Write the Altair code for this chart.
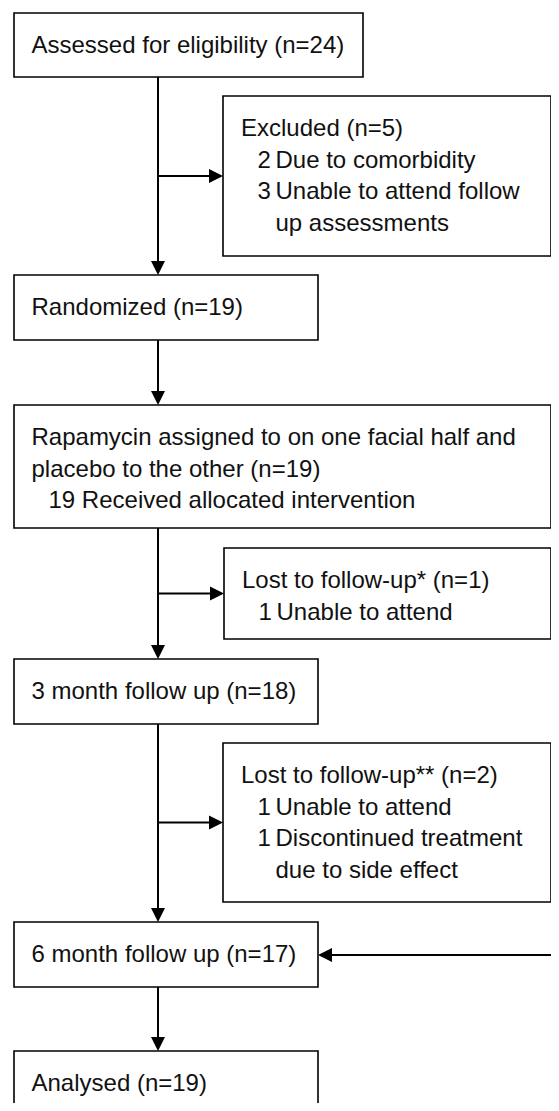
import altair as alt
import pandas as pd

# ---------------- content (text of the flow diagram) ----------------
main_lines = [
    ["Assessed for eligibility (n=24)"],
    ["Randomized (n=19)"],
    ["Rapamycin assigned to on one facial half and", "placebo to the other (n=19)"],
    ["3 month follow up (n=18)"],
    ["6 month follow up (n=17)"],
    ["Analysed (n=19)"],
]
alloc_count = [19]
alloc_reason = ["Received allocated intervention"]

side_titles = ["Excluded (n=5)", "Lost to follow-up* (n=1)", "Lost to follow-up** (n=2)"]
side_counts = [[2, 3], [1], [1, 1]]
side_reasons = [
    [["Due to comorbidity"], ["Unable to attend follow", "up assessments"]],
    [["Unable to attend"]],
    [["Unable to attend"], ["Discontinued treatment", "due to side effect"]],
]

# ---------------- layout (page pixels) ----------------
main_boxes = [(14, 363, 13, 77), (14, 318, 275, 340), (14, 551, 405, 528),
              (14, 318, 659, 724), (14, 318, 922, 987), (14, 318, 1051, 1116)]
side_boxes = [(223, 551, 96, 256), (224, 551, 548, 639), (223, 551, 743, 902)]
spine_x = 158
edge_x = 559
first_base = 40
pitch = 31.7
main_tx = 31.5
alloc_tx = 48.5
head = 196  # arrow head symbol size (14 px wide)
hl = 7      # half head length

# page area covered by the chart (body margin is 8px)
PX0, PX1, PY0, PY1 = 8, 551, 8, 1103

box_rows = [dict(x=a, x2=b, y=c, y2=min(d, PY1 + 3)) for (a, b, c, d) in main_boxes + side_boxes]
boxes = pd.DataFrame(box_rows)

text_rows = []
for (bx, bx2, by, by2), lines in zip(main_boxes, main_lines):
    for i, t in enumerate(lines):
        text_rows.append(dict(x=main_tx, y=by + first_base + i * pitch, t=t))
    if lines[0].startswith("Rapamycin"):
        text_rows.append(dict(x=alloc_tx, y=by + first_base + len(lines) * pitch,
                              t=f"{alloc_count[0]} {alloc_reason[0]}"))
for (bx, bx2, by, by2), title, counts, reasons in zip(side_boxes, side_titles, side_counts, side_reasons):
    text_rows.append(dict(x=bx + 18, y=by + first_base, t=title))
    k = 1
    for c, rs in zip(counts, reasons):
        text_rows.append(dict(x=bx + 34.5, y=by + first_base + k * pitch, t=str(c)))
        for r in rs:
            text_rows.append(dict(x=bx + 52.5, y=by + first_base + k * pitch, t=r))
            k += 1
texts = pd.DataFrame(text_rows)

seg_rows, down_heads, right_heads, left_heads = [], [], [], []
for (a, b) in zip(main_boxes[:-1], main_boxes[1:]):
    seg_rows.append(dict(x=spine_x, x2=spine_x, y=a[3], y2=b[2] - hl))
    down_heads.append(dict(x=spine_x, y=b[2] - hl))
for si in range(3):
    sb = side_boxes[si]
    yb = (sb[2] + sb[3]) / 2
    seg_rows.append(dict(x=spine_x, x2=sb[0] - hl, y=yb, y2=yb))
    right_heads.append(dict(x=sb[0] - hl, y=yb))
l1 = side_boxes[1]
y_l1 = (l1[2] + l1[3]) / 2
seg_rows.append(dict(x=l1[1], x2=edge_x, y=y_l1, y2=y_l1))
b5 = main_boxes[4]
y_ret = (b5[2] + b5[3]) / 2 + 0.5
seg_rows.append(dict(x=edge_x, x2=b5[1] + hl, y=y_ret, y2=y_ret))
left_heads.append(dict(x=b5[1] + hl, y=y_ret))
segs = pd.DataFrame(seg_rows)

xs = alt.Scale(domain=[PX0, PX1], nice=False, zero=False)
ys = alt.Scale(domain=[PY0, PY1], reverse=True, nice=False, zero=False)
X = lambda f: alt.X(f, type="quantitative", scale=xs, axis=None)
Y = lambda f: alt.Y(f, type="quantitative", scale=ys, axis=None)

rules = alt.Chart(segs).mark_rule(color="#000", strokeWidth=2, clip=True).encode(
    x=X("x"), x2="x2", y=Y("y"), y2="y2")
rects = alt.Chart(boxes).mark_rect(fill="white", stroke="#000", strokeWidth=1.6, clip=True).encode(
    x=X("x"), x2="x2", y=Y("y"), y2="y2")


def heads(rows, path):
    return alt.Chart(pd.DataFrame(rows)).mark_point(
        shape=path, filled=True, color="#000", opacity=1, size=head, strokeWidth=0
    ).encode(x=X("x"), y=Y("y"))


hd = heads(down_heads, "M-1,-1L1,-1L0,1Z")
hr = heads(right_heads, "M-1,-1L1,0L-1,1Z")
hlft = heads(left_heads, "M1,-1L-1,0L1,1Z")

labels = alt.Chart(texts).mark_text(
    align="left", baseline="alphabetic", font="Liberation Sans", fontSize=24, color="#111"
).encode(x=X("x"), y=Y("y"), text="t:N")

chart = alt.layer(rules, rects, hd, hr, hlft, labels).properties(
    width=PX1 - PX0, height=PY1 - PY0, padding=0,
    autosize=alt.AutoSizeParams(type="none"),
    background="white",
).configure_view(stroke=None)

chart.save("out.html", embed_options={"renderer": "svg", "actions": False})
